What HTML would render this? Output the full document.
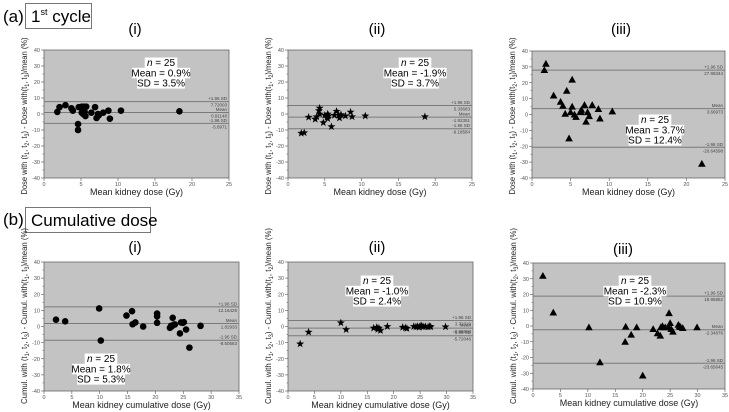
<!DOCTYPE html>
<html><head><meta charset="utf-8">
<style>
html,body{margin:0;padding:0;background:#fff;}
svg{display:block;font-family:"Liberation Sans",sans-serif;}
</style></head>
<body>
<svg id="fig" width="729" height="412" viewBox="0 0 729 412">
<text x="3" y="22" font-size="17">(a)</text>
<rect x="25.5" y="3.5" width="66" height="25" fill="#fff" stroke="#777"/>
<text x="31" y="22" font-size="17">1<tspan font-size="9" dy="-7">st</tspan><tspan dy="7"> cycle</tspan></text>
<text x="3" y="225" font-size="17">(b)</text>
<rect x="25.5" y="207.5" width="125" height="25" fill="#fff" stroke="#777"/>
<text x="31" y="226" font-size="17">Cumulative dose</text>
<g id="panels"></g>
</svg>
<script>
// ---- data arrays ----
const a1X=[1.8,2.1,2.9,3.7,3.9,4.7,4.6,4.6,5.1,5.1,5.3,5.4,5.5,5.7,5.6,6.4,6.9,7.1,7.3,7.4,8.0,8.7,8.9,10.4,18.3];
const a1Y=[1.3,4.3,5.5,3.6,2.1,4.3,-6.3,-10,4.6,0.8,0,4.6,1.3,4.6,-1.3,0.8,4.3,-2.5,0,-0.8,0.8,2.1,-2.9,2.1,1.7];
const a1Lines=[7.72003,0.91148,-5.8971];
const a2X=[1.8,2.2,2.8,3.7,3.9,4.2,4.3,4.8,5.0,5.3,5.4,5.5,5.9,6.3,6.6,6.9,7.0,7.2,7.8,8.5,8.7,10.5,18.6,5.4,4.3];
const a2Y=[-12,-11.7,-2,-3.3,-1.7,2.1,3.7,-5.4,-0.8,-2,0,-1.2,-7.9,-0.8,1.7,-0.8,-2.5,-0.4,-1.2,1.2,-1.7,-1.2,-1.7,-2.9,0];
const a2Lines=[5.33683,-1.92351,-9.18584];
const a3X=[1.6,1.8,2.8,3.7,4.0,4.3,4.5,4.8,5.0,5.2,5.2,5.5,5.7,6.3,6.4,6.8,7.0,7.2,7.4,7.8,8.6,8.8,10.4,22,6.3];
const a3Y=[28,32,12,8,5.5,0.5,15,-15,1.5,22,5,0,-1.5,2,3,6,-4.5,1.5,-1,6,3.5,-2.5,2,-31,1.5];
const a3Lines=[27.98344,3.66973,-20.64598];
const b1X=[2.15,3.8,9.9,10.2,14.8,15.8,15.9,16.4,17.8,20.3,20.3,20.3,22.6,22.8,23.3,23.1,24.6,25.1,24.4,25.5,26.1,28.1,23.5,22.9,24.9];
const b1Y=[4.2,3.2,11.2,-8.7,6.8,9.5,1.4,2.5,0,8,6.3,2.3,-0.8,0.4,1.1,5.4,2.5,2.7,-4.3,-1.9,-13.1,0.4,1.3,0,2.3];
const b1Lines=[12.16429,1.82933,-8.50563];
const b2X=[2.3,3.9,10,11,16.2,16.8,17,17.2,17.5,18.8,21.7,22.2,22.5,23.8,24.2,24.8,25,25.3,25.6,26,26.5,26.8,27,29.8,24.5];
const b2Y=[-10.8,-3.5,2.3,-1.9,-1,-0.5,-1.8,-1,-2.5,0,-0.5,-0.8,-1.2,0,-0.2,-0.5,0.3,0.5,-0.2,0,-0.2,0.1,-0.2,-0.2,0];
const b2Lines=[3.72329,-0.99858,-5.72046];
const b3X=[1.8,3.7,10.2,12.2,16.9,16.8,17.9,18.9,20,21.9,22.7,23.2,23.6,24.1,24.8,25,25.2,25.5,24.7,26.5,26.7,26.9,27.3,29.9,23.3];
const b3Y=[31.9,8.6,-0.8,-23,-0.4,-10,-5.5,-0.8,-31.4,-1.9,-4.6,-6.1,0,-0.8,8.2,1.9,-1.9,-3.6,-0.8,0.8,-0.2,-0.6,-1.3,-0.8,-0.8];
const b3Lines=[18.95852,-2.34876,-23.65645];
const yTicks=[-40,-30,-20,-10,0,10,20,30,40];
const xTicksA=[0,5,10,15,20,25];
const xTicksB=[0,5,10,15,20,25,30,35];
const statsA1=["n = 25","Mean = 0.9%","SD = 3.5%"];
const statsA2=["n = 25","Mean = -1.9%","SD = 3.7%"];
const statsA3=["n = 25","Mean = 3.7%","SD = 12.4%"];
const statsB1=["n = 25","Mean = 1.8%","SD = 5.3%"];
const statsB2=["n = 25","Mean = -1.0%","SD = 2.4%"];
const statsB3=["n = 25","Mean = -2.3%","SD = 10.9%"];

const NS="http://www.w3.org/2000/svg";
const root=document.getElementById('panels');
function mk(tag,attrs,parent){const e=document.createElementNS(NS,tag);for(const k in attrs)e.setAttribute(k,attrs[k]);(parent||root).appendChild(e);return e;}

function panel(cfg){
  const g=mk('g',{});
  
  
  const L=cfg.l,R=cfg.r,T=cfg.t,B=cfg.b;
  const sx=v=>L+(v-0)/(cfg.xmax)*(R-L);
  const sy=v=>T+(40-v)/80*(B-T);
  const bg=mk('rect',{x:L,y:T,width:R-L,height:B-T,fill:'#c3c3c3',stroke:'#666','stroke-width':0.8},g);
  
  
  yTicks.forEach(v=>{
    mk('line',{x1:L-3,x2:L,y1:sy(v),y2:sy(v),stroke:'#555','stroke-width':0.6},g);
    if(v<40) mk('line',{x1:L-1.5,x2:L,y1:sy(v+5),y2:sy(v+5),stroke:'#555','stroke-width':0.5},g);
    const t=mk('text',{x:L-4,y:sy(v)+2,'font-size':5.5,'text-anchor':'end',fill:'#555'},g);
    t.textContent=v;
    
    
  });
  cfg.xt.forEach(v=>{
    mk('line',{x1:sx(v),x2:sx(v),y1:B,y2:B+3,stroke:'#555','stroke-width':0.6},g);
    const t=mk('text',{x:sx(v),y:B+8,'font-size':5.5,'text-anchor':'middle',fill:'#555'},g);
    t.textContent=v;
    
    
  });
  const lab=['+1.96 SD','Mean','-1.96 SD'];
  cfg.lines.forEach((v,i)=>{
    const ln=mk('line',{x1:L,x2:R,y1:sy(v),y2:sy(v),stroke:'#7a7a7a','stroke-width':1},g);
    
    
    const t1=mk('text',{x:R-2,y:sy(v)-1.5,'font-size':4.5,'text-anchor':'end',fill:'#444'},g);
    t1.textContent=lab[i];
    
    
    const t2=mk('text',{x:R-2,y:sy(v)+5,'font-size':4.5,'text-anchor':'end',fill:'#444'},g);
    t2.textContent=v.toFixed(5).replace(/0+$/,'');
    
    
  });
  cfg.xs.forEach((xv,i)=>{
    const cx=sx(xv),cy=sy(cfg.ys[i]);let m;
    if(cfg.marker==='circle') m=mk('circle',{cx:cx,cy:cy,r:3.3,fill:'#000'},g);
    else if(cfg.marker==='tri') m=mk('polygon',{points:`${cx},${cy-3.8} ${cx-3.8},${cy+3} ${cx+3.8},${cy+3}`,fill:'#000'},g);
    else {let p=[];for(let k=0;k<10;k++){const r=k%2?1.7:4.2,a=-Math.PI/2+k*Math.PI/5;p.push((cx+r*Math.cos(a)).toFixed(2)+','+(cy+r*Math.sin(a)).toFixed(2));}m=mk('polygon',{points:p.join(' '),fill:'#000'},g);}
    
    
  });
  cfg.stats.forEach((s,i)=>{
    const y=cfg.sy0+i*10.3;
    const w=s.length*5.1+2;
    mk('rect',{x:cfg.scx-w/2,y:y-8.5,width:w,height:10.5,fill:'#fff'},g);
    const t=mk('text',{x:cfg.scx,y:y,'font-size':10,'text-anchor':'middle',fill:'#000'},g);
    if(i===0){t.innerHTML='<tspan font-style="italic">n</tspan> = 25';}else t.textContent=s;
    
    
  });
  const tt=mk('text',{x:cfg.tx,y:cfg.ty,'font-size':15,'text-anchor':'middle'},g);
  tt.textContent=cfg.title;
  
  
  const xl=mk('text',{x:(L+R)/2,y:B+17,'font-size':9,'text-anchor':'middle',fill:'#222'},g);
  xl.textContent=cfg.xlabel;
  
  
  const yx=L-17,ymid=cfg.ymid;
  const yl=mk('text',{x:yx,y:ymid,'font-size':8.4,'text-anchor':'middle',fill:'#222',textLength:cfg.ylen,lengthAdjust:'spacingAndGlyphs',transform:`rotate(-90 ${yx} ${ymid})`},g);
  yl.innerHTML=cfg.ylabel;
  
  
}
const sub=s=>`<tspan font-size="6" dy="2">${s}</tspan><tspan dy="-2">`;
function yl(pre,a,b){return `${pre} with (t${sub(1)}, t</tspan>${sub(2)}, t</tspan>${sub(3)}) - ${pre} with(t</tspan>${sub(a)}, t</tspan>${sub(b)})/mean (%)</tspan>`;}
const XA="Mean kidney dose (Gy)",XB="Mean kidney cumulative dose (Gy)";
panel({name:'panel-a-i',l:44,r:229,t:50,b:178,xmax:25,xt:xTicksA,xs:a1X,ys:a1Y,lines:a1Lines,marker:'circle',stats:statsA1,scx:161,sy0:66,title:'(i)',tx:135,ty:34,xlabel:XA,ylabel:yl('Dose',1,3),ymid:116,ylen:157});
panel({name:'panel-a-ii',l:288,r:472,t:50,b:178,xmax:25,xt:xTicksA,xs:a2X,ys:a2Y,lines:a2Lines,marker:'star',stats:statsA2,scx:415,sy0:66,title:'(ii)',tx:377,ty:34,xlabel:XA,ylabel:yl('Dose',1,2),ymid:116,ylen:157});
panel({name:'panel-a-iii',l:532,r:725,t:51,b:178,xmax:25,xt:xTicksA,xs:a3X,ys:a3Y,lines:a3Lines,marker:'tri',stats:statsA3,scx:655,sy0:123,title:'(iii)',tx:621,ty:34,xlabel:XA,ylabel:yl('Dose',2,3),ymid:116,ylen:157});
panel({name:'panel-b-i',l:44,r:239,t:262,b:391,xmax:35,xt:xTicksB,xs:b1X,ys:b1Y,lines:b1Lines,marker:'circle',stats:statsB1,scx:101,sy0:362,title:'(i)',tx:135,ty:252,xlabel:XB,ylabel:yl('Cumul.',1,3),ymid:316,ylen:176});
panel({name:'panel-b-ii',l:288,r:473,t:262,b:391,xmax:35,xt:xTicksB,xs:b2X,ys:b2Y,lines:b2Lines,marker:'star',stats:statsB2,scx:377,sy0:284,title:'(ii)',tx:377,ty:252,xlabel:XB,ylabel:yl('Cumul.',1,2),ymid:316,ylen:176});
panel({name:'panel-b-iii',l:533,r:725,t:263,b:389,xmax:35,xt:xTicksB,xs:b3X,ys:b3Y,lines:b3Lines,marker:'tri',stats:statsB3,scx:635,sy0:284,title:'(iii)',tx:623,ty:254,xlabel:XB,ylabel:yl('Cumul.',2,3),ymid:316,ylen:176});
</script>
</body></html>
